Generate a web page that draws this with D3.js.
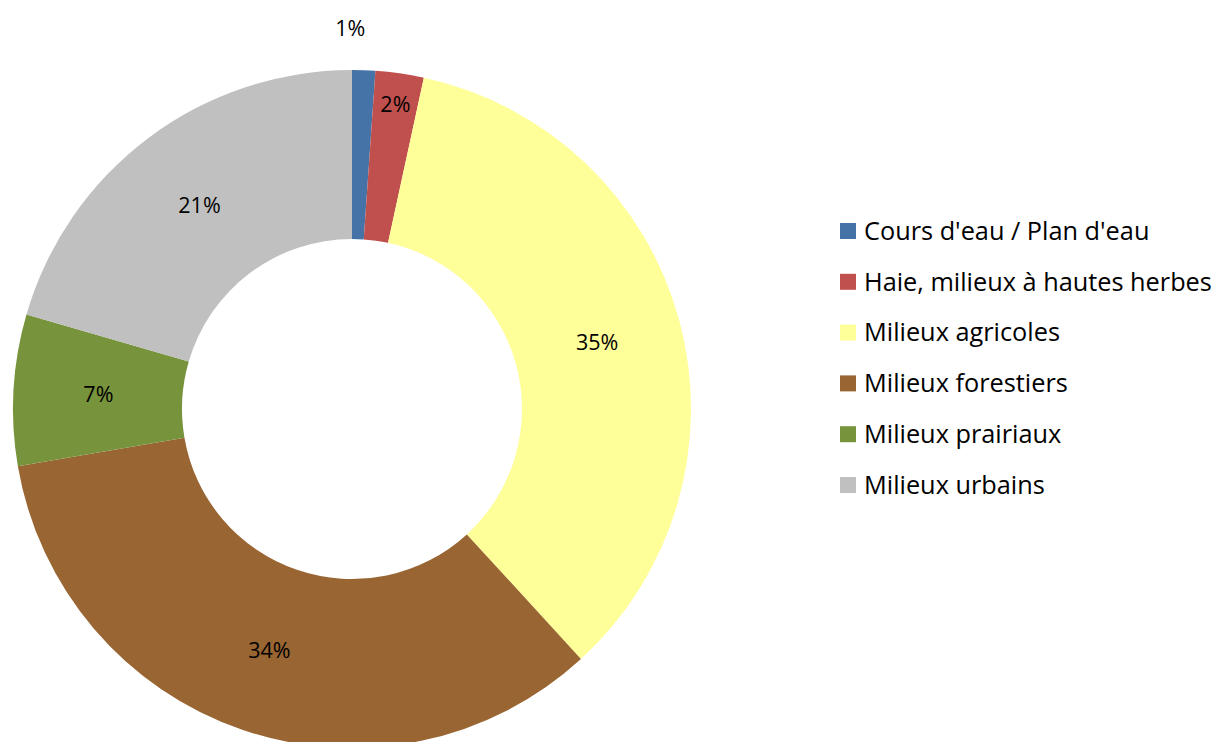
<!DOCTYPE html>
<html>
<head>
<meta charset="utf-8">
<script src="https://cdn.jsdelivr.net/npm/d3@7"></script>
<style>
	body { margin: 0; background: #fff; }
	svg { display: block; font-family: "Open Sans", Lato, sans-serif; }
</style>
</head>
<body>
<div id="chart"></div>
<script>
// data (percent of total)
var categories = ["Cours d'eau / Plan d'eau", "Haie, milieux à hautes herbes", "Milieux agricoles",
	"Milieux forestiers", "Milieux prairiaux", "Milieux urbains"];
var values = [1.1, 2.3, 34.8, 34.1, 7.2, 20.5];
var labels = ["1%", "2%", "35%", "34%", "7%", "21%"];
var colors = ["#4572A7", "#C0504D", "#FFFF99", "#996633", "#77933C", "#C0C0C0"];

var width = 1216, height = 742;
var cx = 352, cy = 409,
	outerR = 339, innerR = 170;

// excel pushed the two small labels outward
var labelR = [381, 308, 254, 255, 254, 254];
var labelDx = [-15, 0, 0, 0, 0, 0];

var svg = d3.select("#chart").append("svg")
	.attr("width", width)
	.attr("height", height);

var pie = d3.pie()
	.sort(null)
	.value(function (d) { return d; });

var arc = d3.arc()
	.innerRadius(innerR)
	.outerRadius(outerR);

var arcs = pie(values);

var g = svg.append("g")
	.attr("transform", "translate(" + cx + "," + cy + ")");

g.selectAll("path")
	.data(arcs)
	.enter().append("path")
	.attr("d", arc)
	.attr("fill", function (d, i) { return colors[i]; });

g.selectAll("text.lbl")
	.data(arcs)
	.enter().append("text")
	.attr("class", "lbl")
	.attr("transform", function (d, i) {
		var a = (d.startAngle + d.endAngle) / 2;
		return "translate(" + (Math.sin(a) * labelR[i] + labelDx[i]) + "," + (-Math.cos(a) * labelR[i]) + ")";
	})
	.attr("text-anchor", "middle")
	.attr("dy", "0.35em")
	.attr("font-size", 21.5)
	.attr("fill", "#000")
	.text(function (d, i) { return labels[i]; });

// legend
var legend = svg.append("g")
	.attr("transform", "translate(840,231)");

var row = legend.selectAll("g")
	.data(categories)
	.enter().append("g")
	.attr("transform", function (d, i) { return "translate(0," + (i * 50.8) + ")"; });

row.append("rect")
	.attr("x", 0)
	.attr("y", -8)
	.attr("width", 16)
	.attr("height", 16)
	.attr("fill", function (d, i) { return colors[i]; });

row.append("text")
	.attr("x", 24)
	.attr("dy", "0.35em")
	.attr("font-size", 25.3)
	.attr("fill", "#000")
	.text(function (d) { return d; });
</script>
</body>
</html>
